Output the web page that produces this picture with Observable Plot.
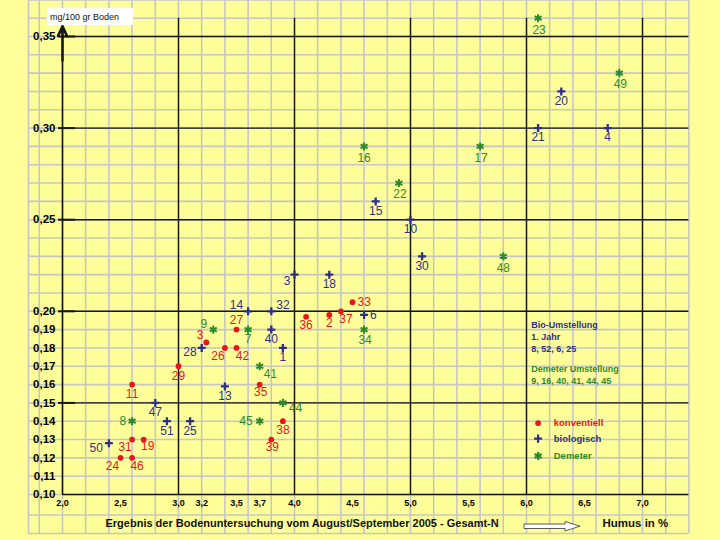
<!DOCTYPE html>
<html><head><meta charset="utf-8">
<script src="https://cdn.jsdelivr.net/npm/d3@7"></script>
<script src="https://cdn.jsdelivr.net/npm/@observablehq/plot@0.6"></script>
<style>
html,body{margin:0;padding:0;background:#ffff99;}
#chart svg{display:block;}
</style></head><body><div id="chart"></div>
<script>
// ---------- data ----------
const seriesNames = ["konventiell", "biologisch", "Demeter"];

const konvId    = [33, 36, 2, 37, 27, 3, 26, 42, 29, 11, 35, 38, 39, 31, 19, 24, 46];
const konvHumus = [4.5, 4.1, 4.3, 4.4, 3.5, 3.24, 3.4, 3.5, 3.0, 2.6, 3.7, 3.9, 3.8, 2.6, 2.7, 2.5, 2.6];
const konvN     = [0.205, 0.197, 0.198, 0.200, 0.190, 0.183, 0.180, 0.180, 0.170, 0.160, 0.160, 0.140, 0.130, 0.130, 0.130, 0.120, 0.120];

const bioId    = [14, 32, 6, 40, 28, 1, 13, 47, 51, 25, 50, 3, 18, 15, 10, 30, 20, 21, 4];
const bioHumus = [3.6, 3.8, 4.6, 3.8, 3.2, 3.9, 3.4, 2.8, 2.9, 3.1, 2.4, 4.0, 4.3, 4.7, 5.0, 5.1, 6.3, 6.1, 6.7];
const bioN     = [0.200, 0.200, 0.198, 0.190, 0.180, 0.180, 0.159, 0.150, 0.140, 0.140, 0.128, 0.220, 0.220, 0.260, 0.250, 0.230, 0.320, 0.300, 0.300];

const demId    = [9, 7, 34, 41, 44, 8, 45, 16, 22, 17, 48, 23, 49];
const demHumus = [3.3, 3.6, 4.6, 3.7, 3.9, 2.6, 3.7, 4.6, 4.9, 5.6, 5.8, 6.1, 6.8];
const demN     = [0.190, 0.190, 0.190, 0.170, 0.150, 0.140, 0.140, 0.290, 0.270, 0.290, 0.230, 0.360, 0.330];

const bioUmstellung = [8, 52, 6, 25];
const demeterUmstellung = [9, 16, 40, 41, 44, 45];

const xTicks = [2.0, 2.5, 3.0, 3.2, 3.5, 3.7, 4.0, 4.5, 5.0, 5.5, 6.0, 6.5, 7.0];
const yTicks = [0.10, 0.11, 0.12, 0.13, 0.14, 0.15, 0.16, 0.17, 0.18, 0.19, 0.20, 0.25, 0.30, 0.35];

const yAxisTitle = "mg/100 gr Boden";
const caption = "Ergebnis der Bodenuntersuchung vom August/September 2005 - Gesamt-N";
const xAxisTitle = "Humus in %";

// ---------- styling / layout ----------
const RED = "#e8161b", BLUE = "#2e2e8c", GREEN = "#2c8a2c";
const GRID = "#c6c6c6", INK = "#161616";
const colors = {konventiell: RED, biologisch: BLUE, Demeter: GREEN};
const FONT = "'Liberation Sans', Arial, sans-serif";

const mk = (name, ids, xs, ys) => ids.map((id, i) => ({series: name, id, humus: xs[i], n: ys[i]}));
const konv = mk("konventiell", konvId, konvHumus, konvN);
const bio = mk("biologisch", bioId, bioHumus, bioN);
const dem = mk("Demeter", demId, demHumus, demN);
const allPts = [...konv, ...bio, ...dem];

// label placement: [dx, dy, anchor]; default below the marker
const place = {
  "konventiell-33": [5, 0, "start"], "konventiell-37": [5, 8, "middle"], "konventiell-27": [0, -9, "middle"],
  "konventiell-3": [-3, -7, "end"], "konventiell-26": [-7, 8.5, "middle"], "konventiell-42": [6, 8.5, "middle"],
  "konventiell-31": [-7, 7.5, "middle"], "konventiell-19": [4, 7, "middle"], "konventiell-24": [-8, 8, "middle"],
  "konventiell-46": [5, 8, "middle"], "konventiell-2": [0, 8, "middle"], "konventiell-36": [0, 8.5, "middle"],
  "konventiell-38": [0, 8.5, "middle"], "konventiell-39": [1, 8, "middle"], "konventiell-35": [1, 8, "middle"],
  "biologisch-14": [-5, -6.3, "end"], "biologisch-32": [5, -6.3, "start"], "biologisch-6": [6, 0, "start"],
  "biologisch-28": [-5, 4.3, "end"], "biologisch-50": [-6, 4.7, "end"], "biologisch-3": [-4, 6.7, "end"],
  "Demeter-9": [-6, -5.7, "end"], "Demeter-41": [4, 7.7, "start"], "Demeter-44": [6, 5.3, "start"],
  "Demeter-8": [-6, 0, "end"], "Demeter-45": [-7, 0, "end"],
  "Demeter-23": [1, 12, "middle"], "Demeter-49": [1, 11.5, "middle"], "Demeter-48": [0, 12, "middle"],
  "Demeter-17": [1, 12, "middle"], "Demeter-22": [1, 11, "middle"], "Demeter-16": [0, 11.3, "middle"],
  "Demeter-34": [1, 10.7, "middle"], "Demeter-7": [0, 10, "middle"]
};

const labelMarks = allPts.map(p => {
  const [dx, dy, anchor] = place[p.series + "-" + p.id] || [0, 9.5, "middle"];
  return Plot.text([p], {x: "humus", y: "n", text: d => String(d.id), dx, dy, textAnchor: anchor,
    fill: colors[p.series], fontSize: 12});
});

const gridX = [1.707, ...d3.range(1.8, 7.41, 0.2)];
const gridY = [0.0787, 0.0888, ...d3.range(0.10, 0.375, 0.01)];
const fmt = (d, k) => d.toFixed(k).replace(".", ",");

const legendY = [0.139, 0.1305, 0.121];
const legendSymbols = ["circle", "plus", "asterisk"];
const symR = [2.9, 2.7, 3.8];

const chart = Plot.plot({
  width: 720, height: 540,
  marginLeft: 62, marginRight: 78, marginTop: 36, marginBottom: 46,
  x: {domain: [2, 7], label: null},
  y: {domain: [0.10, 0.35], label: null},
  style: {background: "#ffff99", fontFamily: FONT, color: "#000"},
  marks: [
    // grey paper grid
    Plot.ruleX(gridX, {y1: 0.0787, y2: 0.372, stroke: GRID, strokeWidth: 1.6}),
    Plot.ruleY(gridY, {x1: 1.707, x2: 7.4, stroke: GRID, strokeWidth: 1.6}),
    // black main lines
    Plot.ruleY([0.15, 0.20, 0.25, 0.30, 0.35], {x1: 2, x2: 7.4, stroke: INK, strokeWidth: 1.4}),
    Plot.ruleX([3, 4, 5, 6, 7], {y1: 0.10, y2: 0.36, stroke: INK, strokeWidth: 1.4}),
    Plot.ruleY([0.15, 0.20, 0.25, 0.30, 0.35], {x1: 1.966, x2: 2.112, stroke: INK, strokeWidth: 2}),
    Plot.ruleY([0.10], {x1: 2, x2: 7.4, stroke: INK, strokeWidth: 1.6}),
    Plot.ruleX([2], {y1: 0.10, y2: 0.337, stroke: INK, strokeWidth: 1.6}),
    Plot.arrow([0], {x1: 2, x2: 2, y1: 0.337, y2: 0.3555, stroke: INK, strokeWidth: 2.6, headLength: 6, headAngle: 50}),
    // axes
    Plot.axisX(xTicks, {tickSize: 0, tickPadding: 5, tickFormat: d => fmt(d, 1), fontSize: 9, fontWeight: "bold", label: null}),
    Plot.axisY(yTicks, {tickSize: 0, tickPadding: 7, tickFormat: d => fmt(d, 2), fontSize: 11.5, fontWeight: "bold", label: null}),
    // data
    Plot.dot(konv, {x: "humus", y: "n", r: symR[0], fill: RED}),
    Plot.dot(bio, {x: "humus", y: "n", symbol: "plus", r: symR[1], stroke: BLUE, strokeWidth: 2.3}),
    Plot.dot(dem, {x: "humus", y: "n", symbol: "asterisk", r: symR[2], stroke: GREEN, strokeWidth: 2}),
    ...labelMarks,
    // annotation block
    Plot.text([["Bio-Umstellung", "1. Jahr", bioUmstellung.join(", ")].join("\n")],
      {x: 6.04, y: 0.1862, text: d => d, textAnchor: "start", lineHeight: 1.33, fontSize: 9, fontWeight: "bold", fill: BLUE}),
    Plot.text([["Demeter Umstellung", demeterUmstellung.join(", ")].join("\n")],
      {x: 6.04, y: 0.1655, text: d => d, textAnchor: "start", lineHeight: 1.33, fontSize: 9, fontWeight: "bold", fill: GREEN}),
    // legend
    ...seriesNames.map((s, i) => Plot.dot([s], {x: 6.1, y: legendY[i], symbol: legendSymbols[i],
      r: symR[i], fill: i === 0 ? RED : "none", stroke: i === 0 ? "none" : colors[s], strokeWidth: 2.2})),
    ...seriesNames.map((s, i) => Plot.text([s], {x: 6.235, y: legendY[i], text: d => d, textAnchor: "start",
      fontSize: 9.5, fontWeight: "bold", fill: colors[s]})),
    // caption row
    Plot.text([caption], {frameAnchor: "bottom-left", dx: 43, dy: 32, textAnchor: "start", text: d => d, fontSize: 11, fontWeight: "bold", fill: "#111"}),
    Plot.text([xAxisTitle], {frameAnchor: "bottom-left", dx: 540, dy: 32, textAnchor: "start", text: d => d, fontSize: 11.5, fontWeight: "bold", fill: "#111"})
  ]
});

// decorations: y-axis title box and hollow arrow in caption row
const svg = d3.select(chart);
const g = svg.append("g");
g.append("rect").attr("x", 47).attr("y", 8).attr("width", 86).attr("height", 17).attr("fill", "#fff");
g.append("text").attr("x", 50).attr("y", 16.5).attr("dy", "0.35em").attr("font-size", 9)
  .attr("text-anchor", "start").attr("font-family", FONT).attr("fill", "#111").text(yAxisTitle);
g.append("path").attr("d", "M524,524 L565,524 L565,521.5 L580,526.2 L565,531 L565,528.5 L524,528.5 Z")
  .attr("fill", "#fff").attr("stroke", "#333").attr("stroke-width", 0.8);

document.getElementById("chart").appendChild(chart);
</script>
</body></html>
